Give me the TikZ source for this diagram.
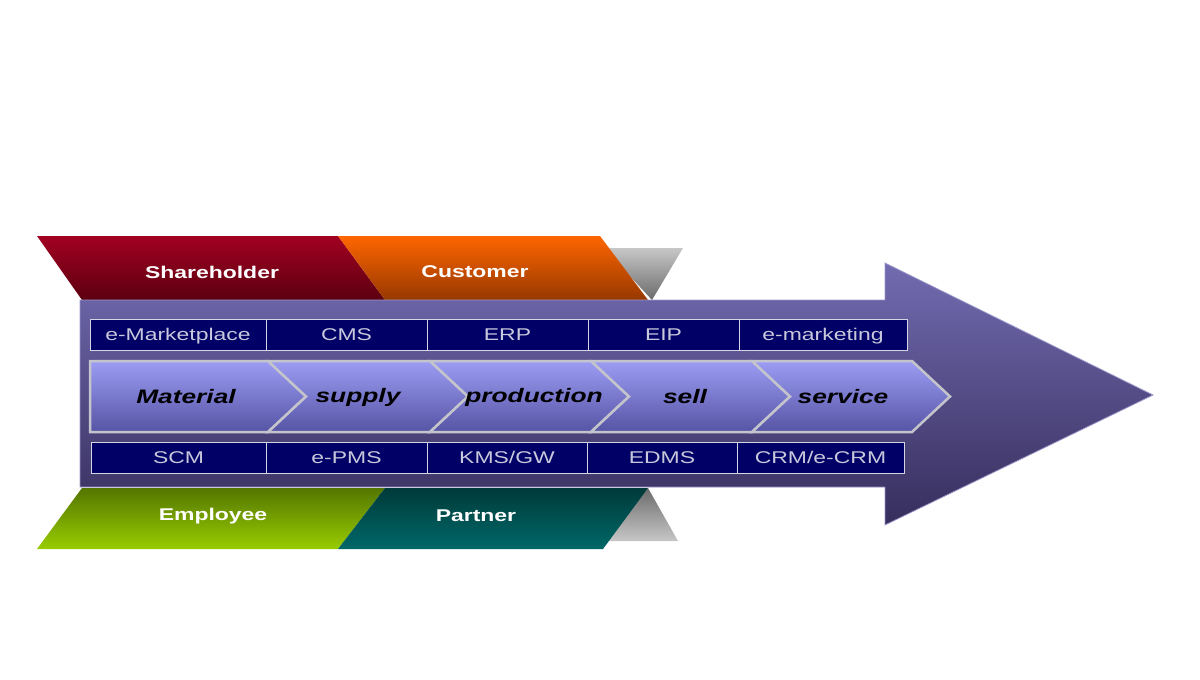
\documentclass[tikz,border=0pt]{standalone}
\usepackage{fontspec}
\setmainfont{Liberation Sans}
\usepackage{xcolor}
\usepackage{graphicx}
\usepackage{tikz}

\definecolor{navy}{HTML}{000066}
\definecolor{boxline}{HTML}{D4D4E4}
\definecolor{boxtext}{HTML}{C8C8DC}
\definecolor{stagetop}{HTML}{9C9CF4}
\definecolor{stagebot}{HTML}{5654A4}
\definecolor{stageline}{HTML}{C4C4CC}
\definecolor{arrowtop}{HTML}{726BB0}
\definecolor{arrowbot}{HTML}{362E5C}
\newcommand{\wide}[1]{\scalebox{1.35}[1]{#1}}

\begin{document}
\begin{tikzpicture}[x=1pt, y=-1pt,
    sysbox/.style = {draw=boxline, fill=navy, text=boxtext, minimum height=31pt, inner sep=0pt,
                     text height=12.5pt, text depth=0pt, font=\fontsize{17}{20}\selectfont},
    stage/.style = {draw=stageline, line width=2.5pt, top color=stagetop, bottom color=stagebot},
    stagetext/.style = {font=\fontsize{19.5}{22}\selectfont\bfseries\itshape},
    bandtext/.style = {text=white, font=\fontsize{17}{20}\selectfont\bfseries}]
    \useasboundingbox (0,0) rectangle (1200,680);

    % grey corners
    \path[top color=black!22, bottom color=black!58] (604,248) -- (683,248) -- (652,300) -- cycle;
    \path[top color=black!58, bottom color=black!22] (648,488) -- (605,541) -- (678,541) -- cycle;

    % top band
    \path[top color={rgb,255:red,162;green,0;blue,34}, bottom color={rgb,255:red,92;green,0;blue,16}]
        (37,236) -- (338,236) -- (385,300) -- (82,300) -- cycle;
    \path[top color={rgb,255:red,255;green,102;blue,0}, bottom color={rgb,255:red,150;green,56;blue,0}]
        (338,236) -- (600,236) -- (648,300) -- (385,300) -- cycle;
    \node[bandtext] (share) at (212,272) {\wide{Shareholder}};
    \node[bandtext] (cust)  at (475,272) {\wide{Customer}};

    % bottom band
    \path[top color={rgb,255:red,84;green,118;blue,0}, bottom color={rgb,255:red,153;green,204;blue,0}]
        (82,488) -- (385,488) -- (338,549) -- (37,549) -- cycle;
    \path[top color={rgb,255:red,0;green,58;blue,58}, bottom color={rgb,255:red,0;green,104;blue,104}]
        (385,488) -- (648,488) -- (603,549) -- (338,549) -- cycle;
    \node[bandtext] (empl) at (213,516) {\wide{Employee}};
    \node[bandtext] (part) at (476,516) {\wide{Partner}};

    % big arrow
    \path[draw=arrowtop!70!white, line width=0.8pt, top color=arrowtop, bottom color=arrowbot]
        (80,300) -- (885,300) -- (885,263) -- (1153,395) -- (885,525) -- (885,487) -- (80,487) -- cycle;

    % systems
    \foreach \nm/\cx/\w/\txt in {mkt/178/176/e-Marketplace, cms/346.5/161/CMS, erp/507.5/161/ERP,
                                 eip/663.5/151/EIP, mark/823/168/e-marketing}
        \node[sysbox, minimum width=\w pt] (\nm) at (\cx,334.5) {\wide{\txt}};
    \foreach \nm/\cx/\w/\txt in {scm/178.5/175/SCM, pms/346.5/161/e-PMS, kms/507/160/{KMS/GW},
                                 edms/662/150/EDMS, crm/820.5/167/{CRM/e-CRM}}
        \node[sysbox, minimum width=\w pt] (\nm) at (\cx,457.5) {\wide{\txt}};

    % value chain
    \path[stage] (90,361) -- (268,361) -- (306,396.5) -- (268,432) -- (90,432) -- cycle;
    \foreach \l/\r in {268/430, 430/591, 591/752, 752/912}
        \path[stage] (\l,361) -- (\r,361) -- (\r+38,396.5) -- (\r,432) -- (\l,432) -- (\l+38,396.5) -- cycle;
    \node[stagetext] (mat)  at (186,397) {\wide{Material}};
    \node[stagetext] (sup)  at (358,397) {\wide{supply}};
    \node[stagetext] (prod) at (534,397) {\wide{production}};
    \node[stagetext] (sell) at (685,397) {\wide{sell}};
    \node[stagetext] (serv) at (843,397) {\wide{service}};
\end{tikzpicture}
\end{document}
